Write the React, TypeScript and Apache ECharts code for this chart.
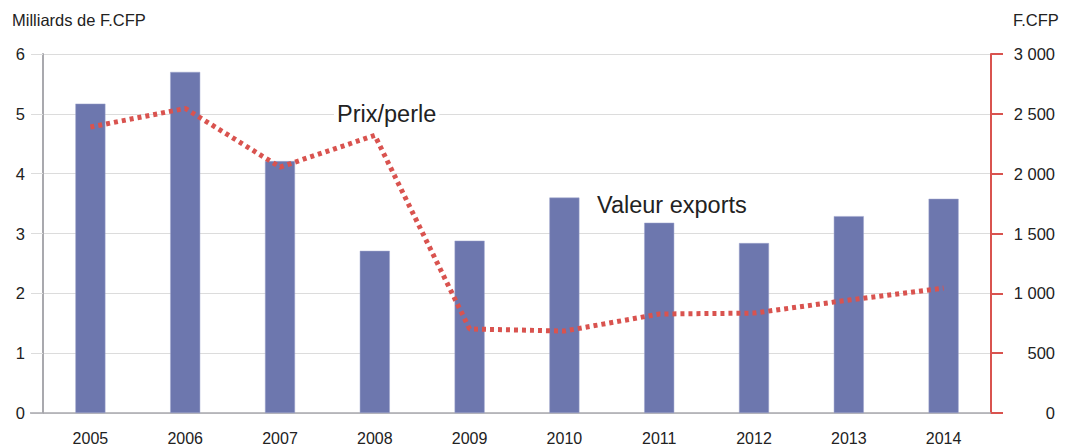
import React, { useEffect, useRef } from "react";
import * as echarts from "echarts";

const years = ["2005", "2006", "2007", "2008", "2009", "2010", "2011", "2012", "2013", "2014"];
const exportValues = [5.17, 5.7, 4.21, 2.71, 2.88, 3.6, 3.18, 2.84, 3.29, 3.58];
const pricePerPearl = [2390, 2545, 2055, 2320, 702, 685, 827, 835, 944, 1044];
const leftTicks = [0, 1, 2, 3, 4, 5, 6];
const rightTicks = [0, 500, 1000, 1500, 2000, 2500, 3000];

const FONT = "'Liberation Sans', Arial, sans-serif";

function fmt(v: number): string {
  const s = String(Math.round(v));
  return s.replace(/\B(?=(\d{3})+(?!\d))/g, " ");
}

export default function App() {
  const ref = useRef<HTMLDivElement>(null);
  useEffect(() => {
    if (!ref.current) return;
    const chart = echarts.init(ref.current, undefined, { renderer: "svg" });
    chart.setOption({
      animation: false,
      textStyle: { fontFamily: FONT },
      grid: { left: 43, right: 88, top: 54, bottom: 33, containLabel: false },
      xAxis: {
        type: "category",
        data: years,
        boundaryGap: true,
        axisLine: { show: false },
        axisTick: { show: false },
        axisLabel: { color: "#222", fontSize: 16, margin: 17, fontFamily: FONT },
      },
      yAxis: [
        {
          type: "value",
          min: leftTicks[0],
          max: leftTicks[leftTicks.length - 1],
          interval: 1,
          position: "left",
          axisLine: { show: true, lineStyle: { color: "#a9a9ae", width: 2 } },
          axisTick: { show: true, length: 12, lineStyle: { color: "#dcdcdc", width: 1 } },
          splitLine: { show: true, lineStyle: { color: "#dcdcdc", width: 1 } },
          axisLabel: { color: "#222", fontSize: 16.5, margin: 18, fontFamily: FONT },
        },
        {
          type: "value",
          min: rightTicks[0],
          max: rightTicks[rightTicks.length - 1],
          interval: 500,
          position: "right",
          axisLine: { show: true, lineStyle: { color: "#d9534f", width: 2 } },
          axisTick: { show: true, length: 12, lineStyle: { color: "#d9534f", width: 2 } },
          splitLine: { show: false },
          axisLabel: {
            color: "#222",
            fontSize: 16.5,
            margin: 64,
            align: "right",
            fontFamily: FONT,
            formatter: (v: number) => fmt(v),
          },
        },
      ],
      series: [
        {
          type: "bar",
          data: exportValues,
          yAxisIndex: 0,
          barWidth: 30,
          itemStyle: { color: "#6d77ae", borderColor: "#9ea5cc", borderWidth: 0.5 },
          z: 2,
        },
        {
          type: "line",
          data: pricePerPearl,
          yAxisIndex: 1,
          symbol: "none",
          lineStyle: { color: "#d9534f", width: 5, type: [4, 4], cap: "butt" },
          z: 3,
        },
      ],
      graphic: [
        {
          type: "line",
          shape: { x1: 30, y1: 413, x2: 991, y2: 413 },
          style: { stroke: "#a9a9ae", lineWidth: 1.5 },
          z: 1,
        },
        {
          type: "text",
          left: 12,
          top: 11,
          style: { text: "Milliards de F.CFP", fontSize: 16.5, fill: "#222", fontFamily: FONT },
        },
        {
          type: "text",
          left: 1013,
          top: 11,
          style: { text: "F.CFP", fontSize: 16.5, fill: "#222", fontFamily: FONT },
        },
        {
          type: "text",
          left: 334,
          top: 102,
          z: 10,
          style: {
            text: "Prix/perle",
            fontSize: 23.5,
            fill: "#222",
            fontFamily: FONT,
            backgroundColor: "#fff",
            padding: [0, 3],
          },
        },
        {
          type: "text",
          left: 594,
          top: 193,
          z: 10,
          style: {
            text: "Valeur exports",
            fontSize: 23.5,
            fill: "#222",
            fontFamily: FONT,
            backgroundColor: "#fff",
            padding: [0, 3],
          },
        },
      ],
    });
    return () => chart.dispose();
  }, []);
  return <div ref={ref} style={{ width: 1079, height: 446, position: "absolute", left: 0, top: 0 }} />;
}
